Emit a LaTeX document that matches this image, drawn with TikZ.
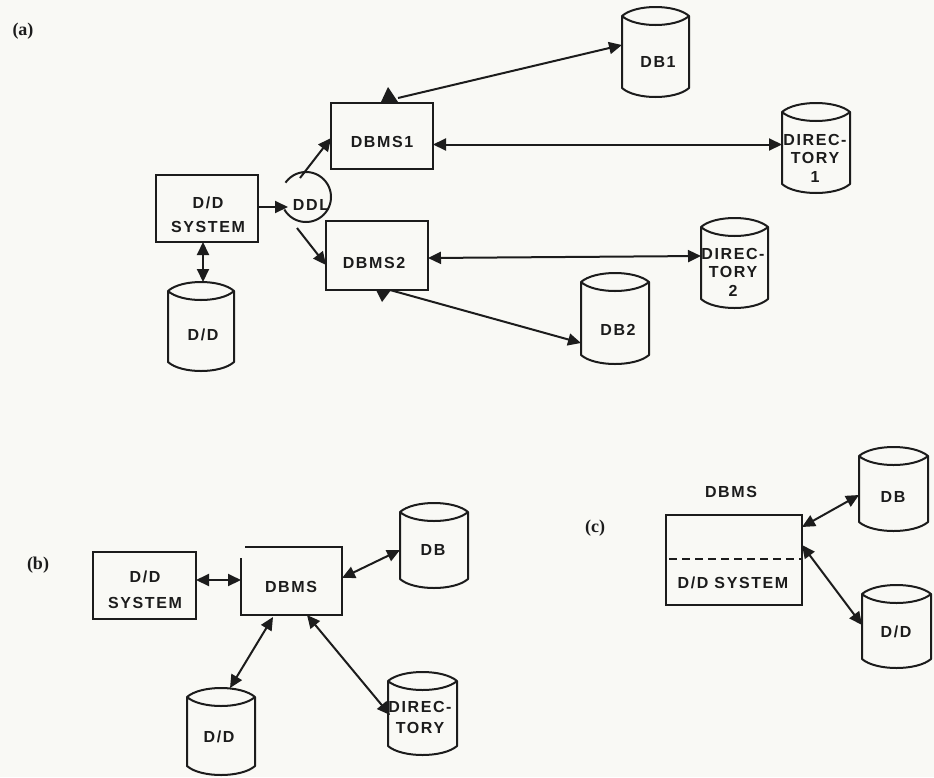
\documentclass[tikz,border=0pt]{standalone}
\usepackage{fontspec}
\setmainfont[LetterSpace=10]{Liberation Sans}
\newfontfamily\tagfont{Liberation Serif}
\usetikzlibrary{arrows.meta}
\definecolor{paper}{HTML}{F9F9F5}
\definecolor{ink}{HTML}{1C1C1C}
\tikzset{
  outl/.style={inner sep=0pt,outer sep=0pt,line width=2pt,draw=ink},
  hull/.style={inner sep=0pt,outer sep=0pt},
  lbl/.style={inner sep=0pt,outer sep=0pt,text=ink,align=center,font=\bfseries\fontsize{16}{18.5}\selectfont},
  tagtext/.style={inner sep=0pt,text=ink,font=\tagfont\bfseries\fontsize{18}{20}\selectfont},
  conn/.style={line width=2pt,draw=ink},
  bothway/.style={conn,{Triangle[length=13pt,width=12pt]}-{Triangle[length=13pt,width=12pt]}},
  oneway/.style={conn,-{Triangle[length=13pt,width=12pt]}},
}
% name, left, top, right, bottom, text x, text y, text
\newcommand{\boxn}[8]{%
  \node[outl,minimum width={(#4-#2)*1pt},minimum height={(#5-#3)*1pt}] (#1) at ({(#2+#4)/2},{(#3+#5)/2}) {};
  \node[lbl] (#1-t) at (#6,#7) {#8};
}
\newcommand{\cyln}[8]{%
  \pgfmathsetmacro{\wq}{0.2*(#4-#2)}
  \pgfmathsetmacro{\topc}{#3+9}
  \pgfmathsetmacro{\botc}{#5-9}
  \node[hull,minimum width={(#4-#2)*1pt},minimum height={(#5-#3)*1pt}] (#1) at ({(#2+#4)/2},{(#3+#5)/2}) {};
  \draw[conn,line join=round]
    (#2,\topc) .. controls ({#2+\wq},{#3-3}) and ({#4-\wq},{#3-3}) .. (#4,\topc)
    .. controls ({#4-\wq},{\topc+12}) and ({#2+\wq},{\topc+12}) .. (#2,\topc)
    -- (#2,\botc) .. controls ({#2+\wq},{#5+3}) and ({#4-\wq},{#5+3}) .. (#4,\botc)
    -- (#4,\topc);
  \node[lbl] (#1-t) at (#6,#7) {#8};
}
\begin{document}
\begin{tikzpicture}[x=1pt,y=-1pt]
\useasboundingbox (0,0) rectangle (934,777);
\fill[paper] (0,0) rectangle (934,777);

% panel (a)
\node[tagtext] (taga) at (23,31) {(a)};
\boxn{ddsys}{156}{175}{258}{242}{208}{215}{D/D\\[5.5pt]SYSTEM}
\boxn{dbmsone}{331}{103}{433}{169}{382}{142}{DBMS1}
\boxn{dbmstwo}{326}{221}{428}{290}{374}{263}{DBMS2}
\cyln{ddcyl}{168}{282}{234}{371}{203}{335}{D/D}
\cyln{dbone}{622}{7}{689}{97}{658}{62}{DB1}
\cyln{dirone}{782}{103}{850}{193}{815}{158}{DIREC-\\TORY\\1}
\cyln{dirtwo}{701}{218}{768}{308}{733}{272}{DIREC-\\TORY\\2}
\cyln{dbtwo}{581}{273}{649}{364}{618}{330}{DB2}

\draw[conn] plot[domain=215:510,samples=60,smooth] ({306+25*cos(\x)},{197+25*sin(\x)});
\node[lbl] (ddl) at (311,205) {DDL};
\coordinate (ddlin) at (288,207);
\coordinate (ddlup) at (300,178);
\coordinate (ddldown) at (297,228);

\draw[oneway] ([yshift=1.5pt]ddsys.east) -- (ddlin);
\draw[oneway] (ddlup) -- ([yshift=-2pt]dbmsone.west);
\draw[oneway] (ddldown) -- ([yshift=-9.5pt]dbmstwo.west);
\draw[bothway] ([xshift=-4pt]ddsys.south) -- ([xshift=2pt]ddcyl.north);
\draw[bothway] ([yshift=-8.5pt]dbmsone.east) -- ([yshift=3.5pt]dirone.west);
\draw[bothway] ([yshift=-2.5pt]dbmstwo.east) -- ([yshift=7pt]dirtwo.west);
\draw[oneway] ([xshift=16pt,yshift=5pt]dbmsone.north) -- ([yshift=7pt]dbone.west);
\draw[oneway] ([xshift=13pt]dbmstwo.south) -- ([yshift=-24.5pt]dbtwo.west);
\fill[ink] (381,102) -- (388,87) -- (398,102) -- cycle;
\fill[ink] (376,290) -- (382,302) -- (391,290) -- cycle;

% panel (b)
\node[tagtext] (tagb) at (38,565) {(b)};
\boxn{sysb}{93}{552}{196}{619}{145}{590}{D/D\\[7.5pt]SYSTEM}
\node[hull,minimum width=101pt,minimum height=68pt] (dbmsb) at (291.5,581) {};
\draw[conn] ([xshift=4pt]dbmsb.north west) -| (dbmsb.south east) -| ([yshift=-11pt]dbmsb.north west);
\node[lbl] (dbmsb-t) at (291,587) {DBMS};
\cyln{dbb}{400}{503}{468}{588}{433}{550}{DB}
\cyln{ddb}{187}{688}{255}{775}{219}{737}{D/D}
\cyln{dirb}{388}{672}{457}{755}{420}{717.5}{DIREC-\\[3pt]TORY}
\draw[bothway] ([yshift=5.5pt]sysb.east) -- ([yshift=1pt]dbmsb.west);
\draw[bothway] ([yshift=3pt]dbmsb.east) -- ([yshift=-4.5pt]dbb.west);
\draw[bothway] ([xshift=-18.5pt,yshift=-2pt]dbmsb.south) -- ([xshift=9pt]ddb.north);
\draw[bothway] ([xshift=15.5pt]dbmsb.south) -- ([xshift=2pt,yshift=-1.5pt]dirb.west);

% panel (c)
\node[tagtext] (tagc) at (595,528) {(c)};
\boxn{boxc}{666}{515}{802}{605}{733}{583}{D/D SYSTEM}
\node[lbl] (dbmsc) at (731,492) {DBMS};
\draw[conn,dash pattern=on 8pt off 5pt] ([xshift=3pt,yshift=1pt]boxc.west) -- ([yshift=1pt]boxc.east);
\cyln{dbc}{859}{447}{928}{531}{893}{497}{DB}
\cyln{ddc}{862}{585}{931}{668}{896}{632}{D/D}
\draw[bothway] ([yshift=33pt]boxc.east) -- ([yshift=-6pt]dbc.west);
\draw[bothway] ([yshift=15pt]boxc.east) -- ([yshift=1.5pt]ddc.west);
\end{tikzpicture}
\end{document}
